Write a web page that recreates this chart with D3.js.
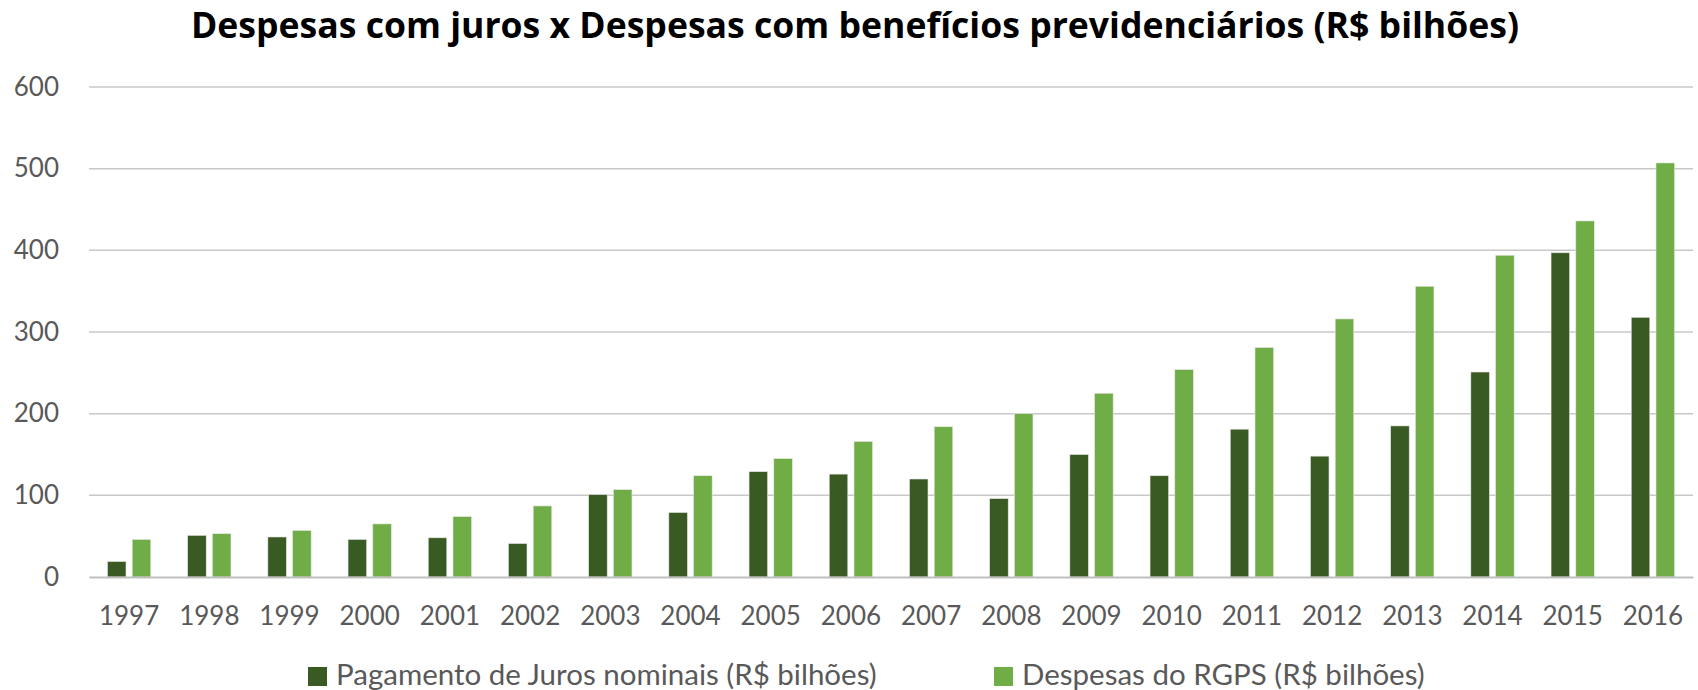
<!DOCTYPE html>
<html>
<head>
<meta charset="utf-8">
<script src="https://cdn.jsdelivr.net/npm/d3@7"></script>
<style>
  body { margin: 0; background: #fff; }
  svg { display: block; }
  .tick text { fill: #595959; }
</style>
</head>
<body>
<div id="chart"></div>
<script>
// values (R$ bilhões)
var years = ["1997","1998","1999","2000","2001","2002","2003","2004","2005","2006",
             "2007","2008","2009","2010","2011","2012","2013","2014","2015","2016"];
var juros = [19, 51, 49, 46, 48, 41, 101, 79, 129, 126, 120, 96, 150, 124, 181, 148, 185, 251, 397, 318];
var rgps  = [46, 53, 57, 65, 74, 87, 107, 124, 145, 166, 184, 200, 225, 254, 281, 316, 356, 394, 436, 507];
var seriesNames = ["Pagamento de Juros nominais (R$ bilhões)", "Despesas do RGPS (R$ bilhões)"];
var seriesColors = ["#3A5A24", "#70AD47"];
var yTicks = [0, 100, 200, 300, 400, 500, 600];
var title = "Despesas com juros x Despesas com benefícios previdenciários (R$ bilhões)";

var W = 1698, H = 690;
var margin = {top: 87, right: 5, bottom: 113, left: 89};
var width = W - margin.left - margin.right,
    height = H - margin.top - margin.bottom;

var rows = years.map(function(y, i) { return {year: y, values: [juros[i], rgps[i]]}; });

var svg = d3.select("#chart").append("svg")
  .attr("width", W)
  .attr("height", H);

var g = svg.append("g")
  .attr("transform", "translate(" + margin.left + "," + margin.top + ")");

var x0 = d3.scaleBand()
  .domain(years)
  .range([0, width])
  .paddingInner(0.46)
  .paddingOuter(0.23);

var x1 = d3.scaleBand()
  .domain([0, 1])
  .range([0, x0.bandwidth()])
  .paddingInner(0.25);

var y = d3.scaleLinear()
  .domain([0, 600])
  .range([height, 0]);

// gridlines
g.append("g")
  .selectAll("line")
  .data(yTicks.slice(1))
  .enter().append("line")
  .attr("x1", 0)
  .attr("x2", width)
  .attr("y1", function(d) { return y(d); })
  .attr("y2", function(d) { return y(d); })
  .attr("stroke", "#C8C8C8")
  .attr("stroke-width", 1.5);

// y axis labels
var yAxis = g.append("g")
  .call(d3.axisLeft(y).tickValues(yTicks).tickSize(0).tickPadding(30));
yAxis.select(".domain").remove();
yAxis.selectAll("text")
  .style("font-family", "Lato, 'Open Sans', sans-serif")
  .style("font-size", "26px");

// bars
var groups = g.selectAll(".year")
  .data(rows)
  .enter().append("g")
  .attr("class", "year")
  .attr("transform", function(d) { return "translate(" + x0(d.year) + ",0)"; });

groups.selectAll("rect")
  .data(function(d) { return d.values; })
  .enter().append("rect")
  .attr("x", function(d, i) { return x1(i); })
  .attr("width", x1.bandwidth())
  .attr("y", function(d) { return y(d); })
  .attr("height", function(d) { return height - y(d); })
  .attr("fill", function(d, i) { return seriesColors[i]; })
  .attr("stroke", "#E6E6E6")
  .attr("stroke-width", 0.6);

// x axis
var xAxis = g.append("g")
  .attr("transform", "translate(0," + height + ")")
  .call(d3.axisBottom(x0).tickSize(0).tickPadding(30));
xAxis.select(".domain")
  .attr("stroke", "#BFBFBF")
  .attr("stroke-width", 2);
xAxis.selectAll("text")
  .style("font-family", "Lato, 'Open Sans', sans-serif")
  .style("font-size", "26px");

// title
svg.append("text")
  .attr("x", 855)
  .attr("y", 38)
  .attr("text-anchor", "middle")
  .style("font-family", "'Open Sans', sans-serif")
  .style("font-weight", "bold")
  .style("font-size", "35.6px")
  .attr("fill", "#000")
  .text(title);

// legend
var legendX = [308, 994];
var legend = svg.selectAll(".legend")
  .data(seriesNames)
  .enter().append("g")
  .attr("class", "legend")
  .attr("transform", function(d, i) { return "translate(" + legendX[i] + ",667)"; });

legend.append("rect")
  .attr("width", 19)
  .attr("height", 19)
  .attr("fill", function(d, i) { return seriesColors[i]; });

legend.append("text")
  .attr("x", 28)
  .attr("y", 18)
  .style("font-family", "Lato, 'Open Sans', sans-serif")
  .style("font-size", "29.5px")
  .attr("fill", "#595959")
  .text(function(d) { return d; });
</script>
</body>
</html>
